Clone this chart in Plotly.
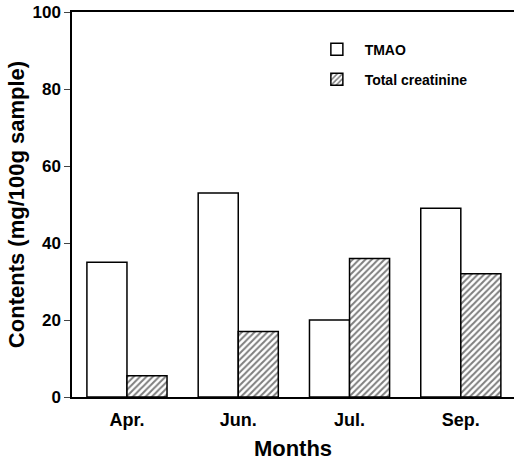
import plotly.graph_objects as go

months = ["Apr.", "Jun.", "Jul.", "Sep."]
tmao = [35, 53, 20, 49]
total_creatinine = [5.5, 17, 36, 32]
y_ticks = [0, 20, 40, 60, 80, 100]
series_names = ["\u00a0\u00a0TMAO", "\u00a0\u00a0Total creatinine"]

FONT = "Liberation Sans, Arial, Helvetica, sans-serif"

fig = go.Figure()
fig.add_trace(go.Bar(
    x=months, y=tmao, name=series_names[0], legendgroup="a",
    marker=dict(color="white", line=dict(color="black", width=1.5)),
))
fig.add_trace(go.Bar(
    x=months, y=total_creatinine, name=series_names[1], legendgroup="b",
    marker=dict(color="white", line=dict(color="black", width=1.5),
                pattern=dict(shape="/", fgcolor="black", bgcolor="white",
                             size=4.5, solidity=0.45)),
))

fig.update_layout(
    width=514, height=461,
    margin=dict(l=72, r=0, t=12, b=64, autoexpand=False),
    paper_bgcolor="white", plot_bgcolor="white",
    barmode="group", bargap=0.28, bargroupgap=0,
    font=dict(family=FONT, color="black"),
    showlegend=True,
    legend=dict(x=0.554, y=0.944, xanchor="left", yanchor="top",
                bgcolor="rgba(0,0,0,0)", tracegroupgap=9,
                font=dict(family=FONT, size=14, weight="bold", color="black")),
    xaxis=dict(
        range=[-0.494, 3.478], showline=True, linecolor="black", linewidth=1.5,
        mirror=True, ticks="", showgrid=False, automargin=False,
        ticklabelstandoff=6,
        tickfont=dict(family=FONT, size=18, weight="bold"),
        title=dict(text="Months", font=dict(family=FONT, size=22, weight="bold"), standoff=22),
    ),
    yaxis=dict(
        range=[0, 100], tickvals=y_ticks, showline=True, linecolor="black",
        linewidth=1.5, ticks="outside", ticklen=6, tickwidth=1.2,
        showgrid=False, zeroline=False, automargin=False,
        tickfont=dict(family=FONT, size=17, weight="bold"),
        title=dict(text="Contents (mg/100g sample)",
                   font=dict(family=FONT, size=22, weight="bold"), standoff=2),
    ),
)

fig.write_html("out.html", config={"displayModeBar": False},
               post_script="document.body.style.margin='0px';")
